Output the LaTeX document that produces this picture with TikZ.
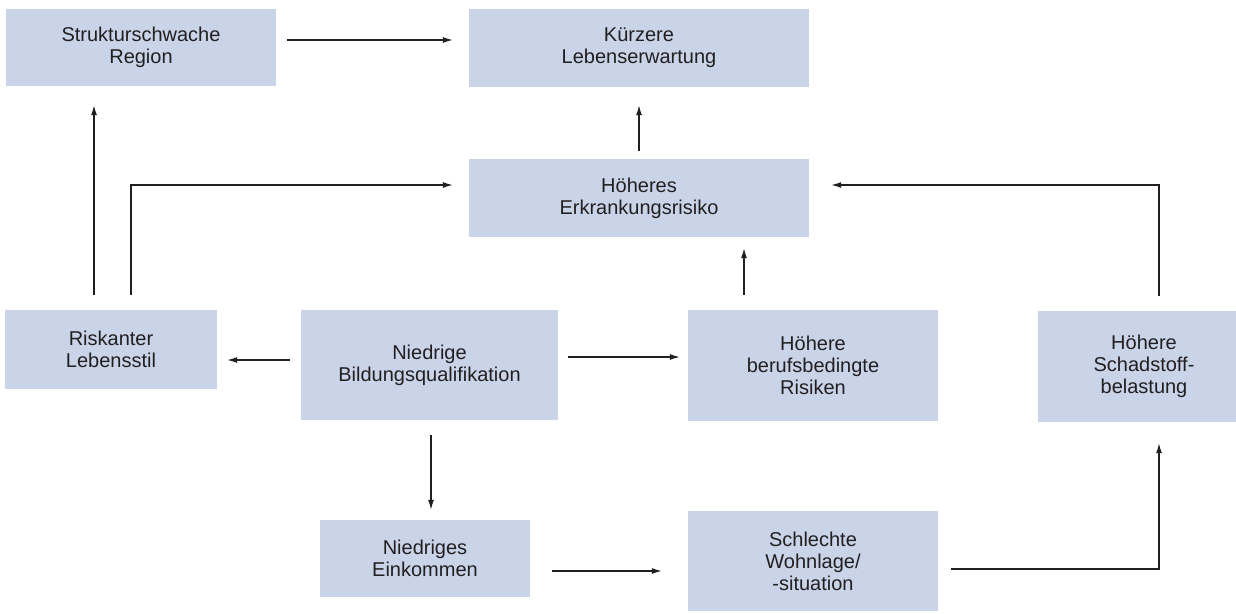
\documentclass[tikz,border=0pt]{standalone}
\usepackage{fontspec}
\setmainfont{Liberation Sans}
\usetikzlibrary{arrows.meta,calc}
\definecolor{boxfill}{RGB}{201,212,232}
\definecolor{ink}{RGB}{35,31,32}
\tikzset{
  box/.style={fill=boxfill, draw=none, inner sep=0pt, align=center, text=ink,
    font=\fontsize{20}{22}\selectfont},
  arr/.style={draw=ink, line width=1.2pt, -{Latex[length=10pt,width=6pt]}}
}
\begin{document}
\begin{tikzpicture}[x=1pt,y=-1pt]
\useasboundingbox (0,0) rectangle (1236,613);
\node[box, minimum width=270pt, minimum height=77pt] (A) at (141,47.5) {Strukturschwache\\Region};
\node[box, minimum width=340pt, minimum height=78pt] (B) at (639,48) {Kürzere\\Lebenserwartung};
\node[box, minimum width=340pt, minimum height=78pt] (C) at (639,198) {Höheres\\Erkrankungsrisiko};
\node[box, minimum width=212pt, minimum height=79pt] (D) at (111,349.5) {Riskanter\\Lebensstil};
\node[box, minimum width=257pt, minimum height=110pt] (E) at (429.5,365) {Niedrige\\Bildungsqualifikation};
\node[box, minimum width=250pt, minimum height=111pt] (F) at (813,365.5) {Höhere\\berufsbedingte\\Risiken};
\node[box, minimum width=212pt, minimum height=111pt] (G) at (1144,366.5) {Höhere\\Schadstoff-\\belastung};
\node[box, minimum width=210pt, minimum height=77pt] (H) at (425,558.5) {Niedriges\\Einkommen};
\node[box, minimum width=250pt, minimum height=100pt] (I) at (813,561) {Schlechte\\Wohnlage/\\-situation};

\draw[arr] ($(A.east)+(11,-7.5)$) -- ($(B.west)+(-16,-8)$);
\draw[arr] ($(C.north)+(0,-8)$) -- ($(B.south)+(0,18)$);
\draw[arr] ($(D.north)+(-17,-15)$) -- ($(A.south)+(-47,19)$);
\draw[arr] ($(D.north)+(20,-15)$) |- ($(C.west)+(-16,-13)$);
\draw[arr] ($(G.north)+(15,-15)$) |- ($(C.east)+(22,-13)$);
\draw[arr] ($(F.north)+(-69,-15)$) -- ($(C.south)+(105,11)$);
\draw[arr] ($(E.west)+(-11,-5)$) -- ($(D.east)+(10,10.5)$);
\draw[arr] ($(E.east)+(10,-8)$) -- ($(F.west)+(-8,-8.5)$);
\draw[arr] ($(E.south)+(1.5,15)$) -- ($(H.north)+(6,-10)$);
\draw[arr] ($(H.east)+(22,12.5)$) -- ($(I.west)+(-26,10)$);
\draw[arr] ($(I.east)+(13,8)$) -| ($(G.south)+(15,21)$);
\end{tikzpicture}
\end{document}
